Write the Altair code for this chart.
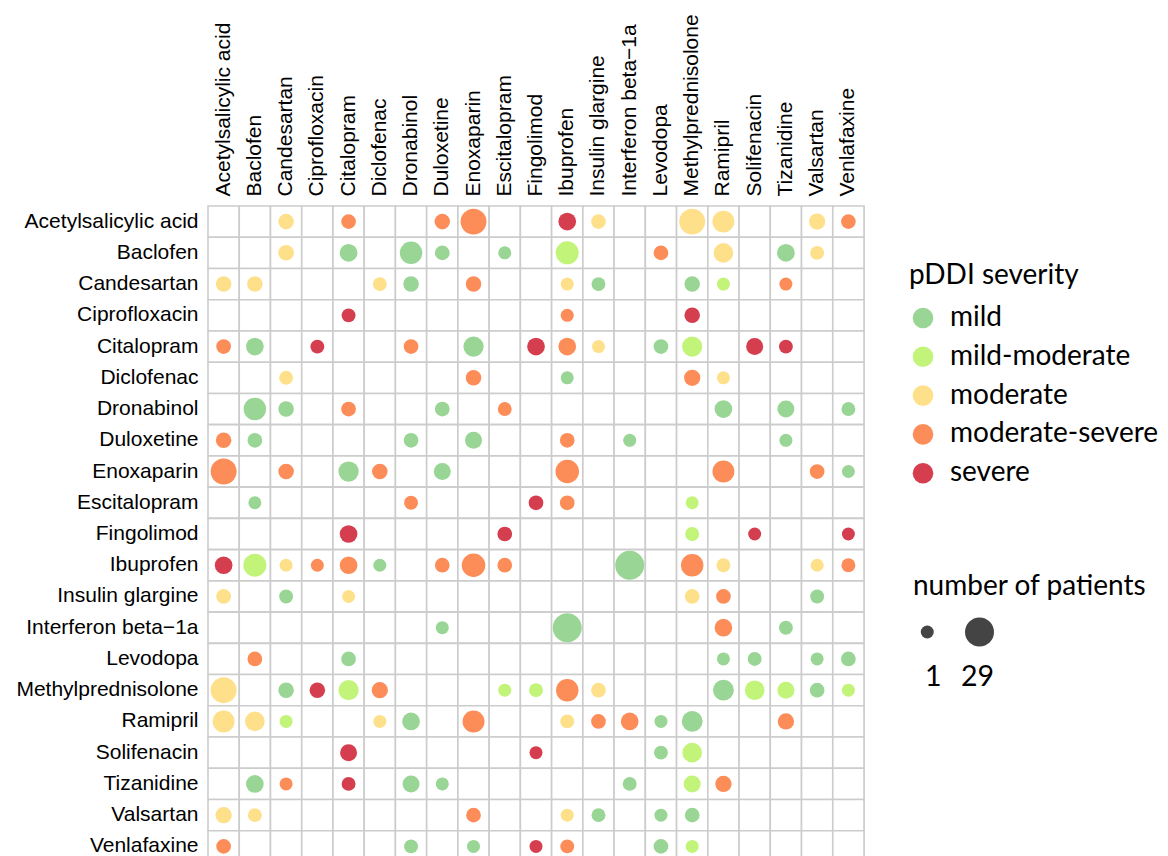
import altair as alt
import pandas as pd

drugs = ["Acetylsalicylic acid", "Baclofen", "Candesartan", "Ciprofloxacin", "Citalopram",
         "Diclofenac", "Dronabinol", "Duloxetine", "Enoxaparin", "Escitalopram", "Fingolimod",
         "Ibuprofen", "Insulin glargine", "Interferon beta\u22121a", "Levodopa",
         "Methylprednisolone", "Ramipril", "Solifenacin", "Tizanidine", "Valsartan", "Venlafaxine"]

severity_levels = ["mild", "mild-moderate", "moderate", "moderate-severe", "severe"]
severity_colors = ["#99d594", "#c2f47a", "#fee08b", "#fc8d59", "#d53e4f"]

# upper-triangle pairs (indices into drugs); the matrix is symmetric
pair_a = [0, 0, 0, 0, 0, 0, 0, 0, 0, 0,
          1, 1, 1, 1, 1, 1, 1, 1, 1, 1,
          2, 2, 2, 2, 2, 2, 2, 2,
          3, 3, 3,
          4, 4, 4, 4, 4, 4, 4, 4, 4,
          5, 5, 5, 5,
          6, 6, 6, 6, 6,
          7, 7, 7, 7,
          8, 8, 8, 8,
          9, 9, 9,
          10, 10, 10,
          11, 11, 11, 11, 11,
          12, 12, 12,
          13, 13,
          14, 14, 14, 14,
          15, 15, 15, 15, 15,
          16]
pair_b = [2, 4, 7, 8, 11, 12, 15, 16, 19, 20,
          2, 4, 6, 7, 9, 11, 14, 16, 18, 19,
          5, 6, 8, 11, 12, 15, 16, 18,
          4, 11, 15,
          6, 8, 10, 11, 12, 14, 15, 17, 18,
          8, 11, 15, 16,
          7, 9, 16, 18, 20,
          8, 11, 13, 18,
          11, 16, 19, 20,
          10, 11, 15,
          15, 17, 20,
          13, 15, 16, 19, 20,
          15, 16, 19,
          16, 18,
          16, 17, 19, 20,
          16, 17, 18, 19, 20,
          18]
pair_sev = ["moderate", "moderate-severe", "moderate-severe", "moderate-severe", "severe",
            "moderate", "moderate", "moderate", "moderate", "moderate-severe",
            "moderate", "mild", "mild", "mild", "mild", "mild-moderate", "moderate-severe",
            "moderate", "mild", "moderate",
            "moderate", "mild", "moderate-severe", "moderate", "mild", "mild", "mild-moderate",
            "moderate-severe",
            "severe", "moderate-severe", "severe",
            "moderate-severe", "mild", "severe", "moderate-severe", "moderate", "mild",
            "mild-moderate", "severe", "severe",
            "moderate-severe", "mild", "moderate-severe", "moderate",
            "mild", "moderate-severe", "mild", "mild", "mild",
            "mild", "moderate-severe", "mild", "mild",
            "moderate-severe", "moderate-severe", "moderate-severe", "mild",
            "severe", "moderate-severe", "mild-moderate",
            "mild-moderate", "severe", "severe",
            "mild", "moderate-severe", "moderate", "moderate", "moderate-severe",
            "moderate", "moderate-severe", "mild",
            "moderate-severe", "mild",
            "mild", "mild", "mild", "mild",
            "mild", "mild-moderate", "mild-moderate", "mild", "mild-moderate",
            "moderate-severe"]
pair_n = [4, 3, 4, 22, 7, 3, 22, 14, 5, 3,
          4, 7, 15, 3, 1, 16, 3, 10, 7, 2,
          2, 4, 4, 1, 2, 4, 1, 1,
          2, 1, 4,
          3, 11, 7, 7, 1, 3, 11, 6, 2,
          4, 1, 5, 1,
          3, 2, 7, 6, 2,
          6, 3, 1, 1,
          17, 14, 3, 1,
          3, 3, 1,
          2, 1, 1,
          29, 15, 2, 1, 2,
          3, 3, 2,
          7, 2,
          1, 2, 1, 3,
          12, 10, 6, 3, 1,
          5]

rows = []
for a, b, s, n in zip(pair_a, pair_b, pair_sev, pair_n):
    rows.append({"row": drugs[a], "col": drugs[b], "severity": s, "patients": n})
    rows.append({"row": drugs[b], "col": drugs[a], "severity": s, "patients": n})
points = pd.DataFrame(rows)

cells = pd.DataFrame([{"row": r, "col": c} for r in drugs for c in drugs])

AX_FONT = "Liberation Sans"
LEG_FONT = "Lato"

x_enc = alt.X("col:N", scale=alt.Scale(domain=drugs, paddingInner=0, paddingOuter=0),
              axis=alt.Axis(orient="top", labelAngle=-90, title=None, ticks=False, domain=False,
                            labelPadding=10, labelFontSize=21, labelFont=AX_FONT,
                            labelColor="black", grid=False, labelLimit=400))
y_enc = alt.Y("row:N", scale=alt.Scale(domain=drugs, paddingInner=0, paddingOuter=0),
              axis=alt.Axis(title=None, ticks=False, domain=False, labelPadding=10,
                            labelFontSize=21, labelFont=AX_FONT, labelColor="black",
                            grid=False, labelLimit=400))

grid = alt.Chart(cells).mark_rect(fill="white", stroke="#cccccc", strokeWidth=1.6).encode(
    x=x_enc, y=y_enc)

dots = alt.Chart(points).mark_circle(opacity=1).encode(
    x=x_enc, y=y_enc,
    color=alt.Color("severity:N",
                    scale=alt.Scale(domain=severity_levels, range=severity_colors),
                    legend=alt.Legend(title="pDDI severity", orient="none", legendX=701, legendY=56,
                                      titleFont=LEG_FONT, titleFontSize=28, titleFontWeight="normal",
                                      titleColor="black", titleLimit=400, labelFont=LEG_FONT,
                                      labelFontSize=28, labelColor="black", symbolSize=424,
                                      symbolType="circle", symbolStrokeWidth=0, rowPadding=10.8,
                                      labelOffset=13, titlePadding=14, labelLimit=400)),
    size=alt.Size("patients:Q",
                  scale=alt.Scale(domain=[1, 29], range=[169, 841], zero=False),
                  legend=alt.Legend(title="number of patients", values=[1, 29], orient="none",
                                    direction="horizontal", legendX=705, legendY=367,
                                    titleFont=LEG_FONT, titleFontSize=28, titleFontWeight="normal",
                                    titleColor="black", titleLimit=400, labelFont=LEG_FONT,
                                    labelFontSize=28.5, labelColor="black", symbolType="circle",
                                    symbolFillColor="#444444", symbolStrokeWidth=0,
                                    clipHeight=30,
                                    labelExpr="['', datum.value == 1 ? '1\u00a0' : datum.label]",
                                    labelBaseline="top", labelAlign="right", labelOffset=0,
                                    columnPadding=18, titlePadding=16)),
)

chart = alt.layer(grid, dots).properties(
    width=656, height=656, padding={"left": 7, "top": 5, "right": 0, "bottom": 5}
).configure_view(stroke=None).configure(background="white")

chart.save("out.html", embed_options={"renderer": "svg", "actions": False})
